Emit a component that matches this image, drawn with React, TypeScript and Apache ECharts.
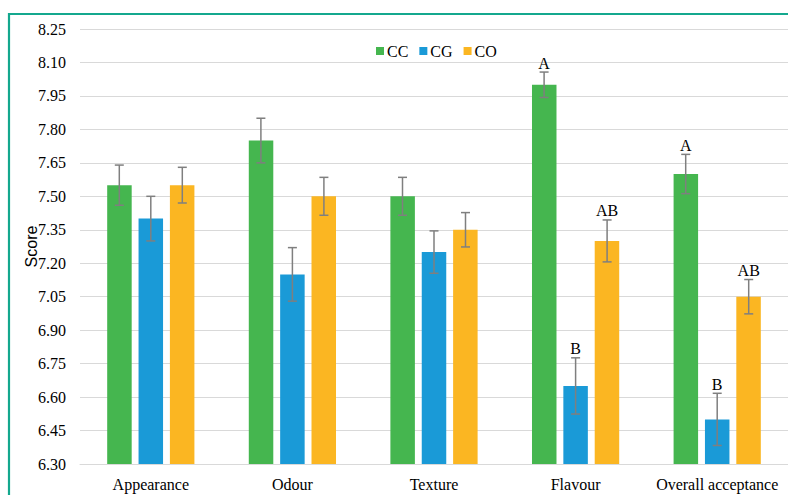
import React, { useEffect, useRef } from "react";
import * as echarts from "echarts";

const categories = ["Appearance", "Odour", "Texture", "Flavour", "Overall acceptance"];
const seriesNames = ["CC", "CG", "CO"];
const ccValues = [7.55, 7.75, 7.5, 8.0, 7.6];
const cgValues = [7.4, 7.15, 7.25, 6.65, 6.5];
const coValues = [7.55, 7.5, 7.35, 7.3, 7.05];
const ccErrors = [0.09, 0.1, 0.085, 0.057, 0.088];
const cgErrors = [0.1, 0.12, 0.095, 0.126, 0.117];
const coErrors = [0.08, 0.085, 0.077, 0.094, 0.077];
const ccLetters = ["", "", "", "A", "A"];
const cgLetters = ["", "", "", "B", "B"];
const coLetters = ["", "", "", "AB", "AB"];
const yTicks = { min: 6.3, max: 8.25, interval: 0.15 };

const colors = ["#45B64F", "#1A9AD7", "#FBB622"];
const serif = "Liberation Serif";
const BAR_W = 24.5;
const STEP = 31.5;

export default function App() {
  const ref = useRef<HTMLDivElement>(null);
  useEffect(() => {
    if (!ref.current) return;
    const chart = echarts.init(ref.current, null, { renderer: "svg" });
    const values = [ccValues, cgValues, coValues];
    const errors = [ccErrors, cgErrors, coErrors];
    const letters = [ccLetters, cgLetters, coLetters];

    const barSeries = values.map((vals, s) => ({
      name: seriesNames[s],
      type: "bar",
      data: vals,
      barWidth: BAR_W,
      barGap: "28%",
      itemStyle: { color: colors[s] },
      z: 2,
    }));

    const errSeries = values.map((vals, s) => ({
      type: "custom",
      name: seriesNames[s] + " err",
      data: vals.map((v, i) => [i, v, errors[s][i]]),
      z: 5,
      renderItem: (params: any, api: any) => {
        const i = api.value(0);
        const v = api.value(1);
        const e = api.value(2);
        const top = api.coord([i, v + e]);
        const bot = api.coord([i, v - e]);
        const x = top[0] + (s - 1) * STEP;
        const style = { stroke: "#7F7F7F", lineWidth: 1.5 };
        const children: any[] = [
          { type: "line", shape: { x1: x, y1: top[1], x2: x, y2: bot[1] }, style },
          { type: "line", shape: { x1: x - 4.5, y1: top[1], x2: x + 4.5, y2: top[1] }, style },
          { type: "line", shape: { x1: x - 4.5, y1: bot[1], x2: x + 4.5, y2: bot[1] }, style },
        ];
        const letter = letters[s][params.dataIndex];
        if (letter) {
          children.push({
            type: "text",
            x: x,
            y: top[1] - 1,
            style: {
              text: letter,
              fill: "#000",
              fontFamily: serif,
              fontSize: 16,
              textAlign: "center",
              textVerticalAlign: "bottom",
            },
          });
        }
        return { type: "group", children };
      },
    }));

    chart.setOption({
      animation: false,
      backgroundColor: "#fff",
      legend: {
        data: seriesNames.map((n) => ({ name: n, icon: "rect" })),
        left: 371,
        top: 38,
        itemWidth: 8,
        itemHeight: 8,
        itemGap: 11,
        textStyle: { fontFamily: serif, fontSize: 16, color: "#000", padding: [0, 0, 0, -2] },
      },
      grid: { left: 80, top: 29, width: 713, height: 435 },
      xAxis: {
        type: "category",
        data: categories,
        axisLine: { lineStyle: { color: "#D9D9D9" } },
        axisTick: { show: false },
        axisLabel: { fontFamily: serif, fontSize: 16, color: "#000", margin: 12, interval: 0 },
      },
      yAxis: {
        type: "value",
        min: yTicks.min,
        max: yTicks.max,
        interval: yTicks.interval,
        name: "Score",
        nameLocation: "middle",
        nameGap: 41,
        nameMoveOverlap: false,
        nameTextStyle: { fontFamily: "Liberation Sans", fontSize: 16, color: "#000" },
        axisLine: { show: false },
        axisTick: { show: false },
        splitLine: { lineStyle: { color: "#D9D9D9", width: 1.2 } },
        axisLabel: {
          fontFamily: serif,
          fontSize: 16,
          color: "#000",
          margin: 14,
          formatter: (v: number) => v.toFixed(2),
        },
      },
      graphic: [
        {
          type: "rect",
          shape: { x: 9, y: 14, width: 820, height: 520 },
          style: { fill: "none", stroke: "#14A88E", lineWidth: 2.2 },
          z: 10,
        },
      ],
      series: [...barSeries, ...errSeries],
    });
    return () => chart.dispose();
  }, []);
  return (
    <div
      ref={ref}
      style={{ position: "fixed", left: 0, top: 0, width: 788, height: 495 }}
    />
  );
}
